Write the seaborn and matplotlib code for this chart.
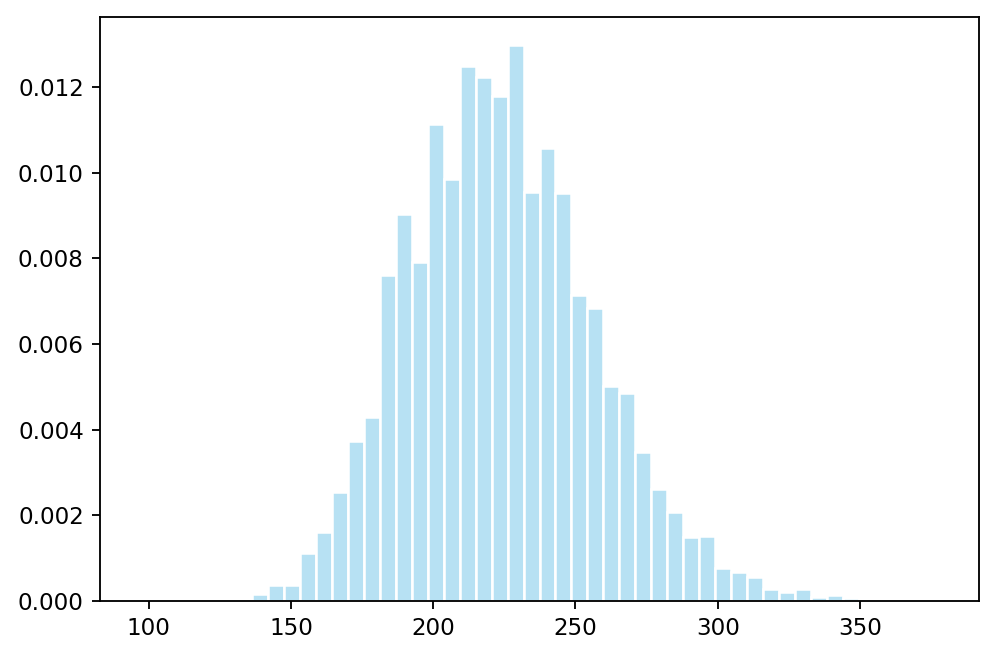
import numpy as np
import pandas as pd
import matplotlib
matplotlib.use("Agg")
import matplotlib.pyplot as plt
import seaborn as sns

# Histogram range and bin count
bin_lo = 96.9
bin_hi = 377.8
n_bins = 50

# Density per bin (bins 0..49); bins 7..44 are non-empty
density = [
    0, 0, 0, 0, 0, 0, 0,
    0.000175, 0.000365, 0.000385, 0.00111, 0.00162, 0.00255, 0.00374, 0.00430,
    0.00761, 0.00904, 0.00792, 0.01114, 0.00986, 0.01249, 0.01224, 0.01180,
    0.01299, 0.00955, 0.01058, 0.00953, 0.00715, 0.00683, 0.00502, 0.00486,
    0.00348, 0.00261, 0.00208, 0.00149, 0.00151, 0.00076, 0.00067, 0.00057,
    0.00028, 0.00022, 0.00029, 0.00009, 0.00013, 0.00007,
    0, 0, 0, 0, 0,
]

edges = np.linspace(bin_lo, bin_hi, n_bins + 1)
centers = (edges[:-1] + edges[1:]) / 2
df = pd.DataFrame({"x": centers, "w": density})

dpi = 166
fig = plt.figure(figsize=(996 / dpi, 658 / dpi), dpi=dpi)
ax = fig.add_axes([100 / 996, 1 - 601 / 658, 879 / 996, 584.3 / 658])

sns.histplot(data=df, x="x", weights="w", bins=n_bins,
             binrange=(bin_lo, bin_hi), stat="count",
             color="skyblue", alpha=0.6, edgecolor="white", linewidth=1.1,
             ax=ax)
ax.set_ylabel("")
ax.set_xlabel("")
ax.set_xticks([100, 150, 200, 250, 300, 350])
ax.set_yticks([0, 0.002, 0.004, 0.006, 0.008, 0.010, 0.012])
ax.set_yticklabels(["0.000", "0.002", "0.004", "0.006", "0.008", "0.010", "0.012"])

fig.savefig("out.png", dpi=dpi)
